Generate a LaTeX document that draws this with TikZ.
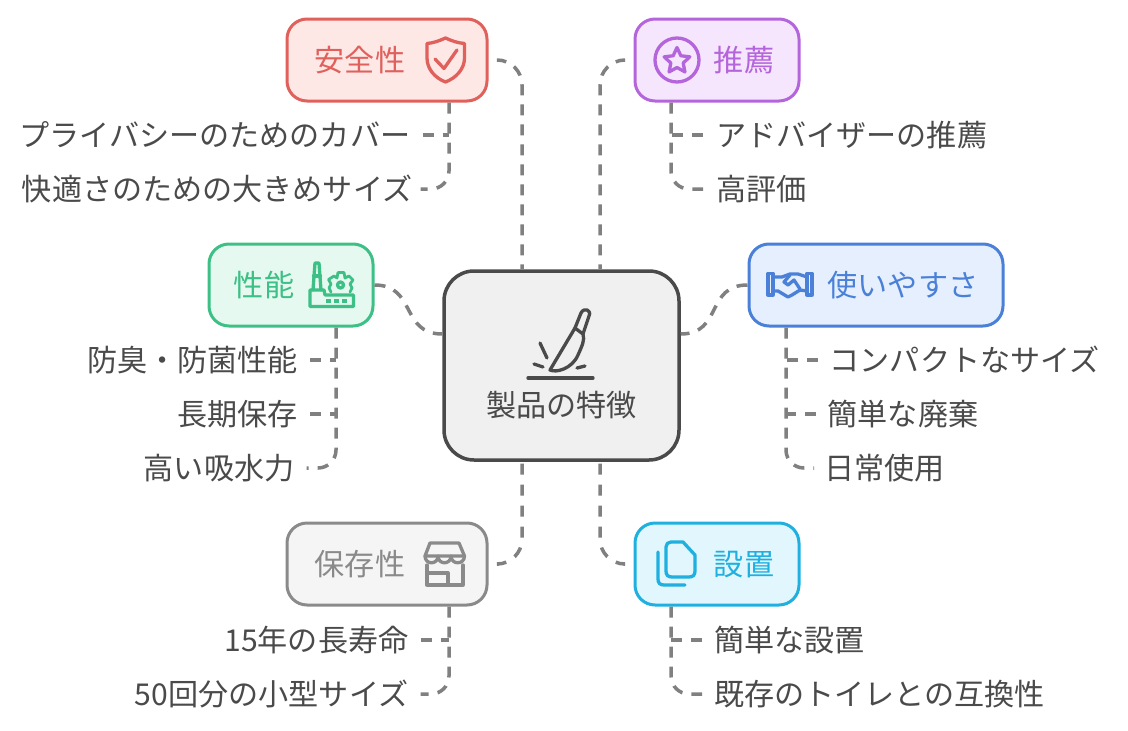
\documentclass[tikz,border=0pt]{standalone}
\usepackage{fontspec}
\setmainfont{Noto Sans CJK JP}
\usetikzlibrary{calc}
\definecolor{ink}{HTML}{4A4A4A}
\definecolor{conncol}{HTML}{808080}
\definecolor{redS}{HTML}{E0605C}\definecolor{redF}{HTML}{FDE8E6}
\definecolor{purS}{HTML}{B565DB}\definecolor{purF}{HTML}{F5E6FD}
\definecolor{grnS}{HTML}{3CC085}\definecolor{grnF}{HTML}{E6F9F0}
\definecolor{bluS}{HTML}{4A80D8}\definecolor{bluF}{HTML}{E5EFFD}
\definecolor{gryS}{HTML}{8A8A8A}\definecolor{gryF}{HTML}{F5F5F5}
\definecolor{cyaS}{HTML}{1FB0E0}\definecolor{cyaF}{HTML}{E1F7FD}
\tikzset{
  x=1pt,y=-1pt,
  txt/.style={font=\fontsize{30.1}{36}\selectfont,inner sep=0pt,text height=26.4pt,text depth=3.6pt,text=ink},
  box/.style={draw=#1S,fill=#1F,line width=3pt,rounded corners=20pt,minimum height=82pt,inner sep=0pt},
  head/.style={txt,text=#1S},
  conn/.style={draw=conncol,line width=3.5pt,dash pattern=on 11pt off 9pt},
  connlow/.style={draw=conncol,line width=3.5pt,dash pattern=on 11pt off 10pt},
  icon/.style={draw=#1,line width=3.3pt,line join=round,line cap=round},
}
\begin{document}
\begin{tikzpicture}
\useasboundingbox (0,0) rectangle (1128,731);
% centre
\node[draw=ink,fill=black!6,line width=3.5pt,rounded corners=30pt,minimum width=235pt,minimum height=189pt,inner sep=0pt] (ctr) at (561.5,365.5) {};
\node[txt] (ctrT) at (561.5,405) {製品の特徴};
% category boxes
\node[box=red,minimum width=200pt] (safe) at (387,60) {};
\node[box=pur,minimum width=164pt] (reco) at (717,60) {};
\node[box=grn,minimum width=164pt] (perf) at (291,285) {};
\node[box=blu,minimum width=254pt] (ease) at (876,285) {};
\node[box=gry,minimum width=200pt] (stor) at (387,564) {};
\node[box=cya,minimum width=164pt] (inst) at (717,564) {};
\node[head=red] (safeT) at (360,60) {安全性};
\node[head=pur] (recoT) at (744,60) {推薦};
\node[head=grn] (perfT) at (264,285) {性能};
\node[head=blu] (easeT) at (903,285) {使いやすさ};
\node[head=gry] (storT) at (360,564) {保存性};
\node[head=cya] (instT) at (744,564) {設置};
% leaves
\node[txt,anchor=east] (s1) at (410.5,135) {プライバシーのためのカバー};
\node[txt,anchor=east] (s2) at (412.5,189) {快適さのための大きめサイズ};
\node[txt,anchor=west] (r1) at (716,135) {アドバイザーの推薦};
\node[txt,anchor=west] (r2) at (716,189) {高評価};
\node[txt,anchor=east] (p1) at (298,360) {防臭・防菌性能};
\node[txt,anchor=east] (p2) at (298,414) {長期保存};
\node[txt,anchor=east] (p3) at (294.5,468) {高い吸水力};
\node[txt,anchor=west] (e1) at (829.5,360) {コンパクトなサイズ};
\node[txt,anchor=west] (e2) at (827.5,414) {簡単な廃棄};
\node[txt,anchor=west] (e3) at (824,468) {日常使用};
\node[txt,anchor=east] (t1) at (408.5,640) {15年の長寿命};
\node[txt,anchor=east] (t2) at (408.5,694) {50回分の小型サイズ};
\node[txt,anchor=west] (i1) at (714,640) {簡単な設置};
\node[txt,anchor=west] (i2) at (714,694) {既存のトイレとの互換性};
% centre connectors
\draw[conn,rounded corners=25pt] ($(safe.east)+(10,0)$) -| ($(ctr.north)+(-39.5,0)$);
\draw[conn,rounded corners=25pt] ($(reco.west)+(-10,0)$) -| ($(ctr.north)+(38.5,0)$);
\draw[connlow,rounded corners=25pt] ($(stor.east)+(10,0)$) -| ($(ctr.south)+(-39.5,0)$);
\draw[connlow,rounded corners=25pt] ($(inst.west)+(-10,0)$) -| ($(ctr.south)+(38.5,0)$);
\draw[conn] (perf.east) .. controls +(42,0) and +(-42,0) .. ($(ctr.west)+(0,-31.5)$);
\draw[conn] (ease.west) .. controls +(-42,0) and +(42,0) .. ($(ctr.east)+(0,-31.5)$);
% leaf connectors
\coordinate (st) at ($(safe.south)+(62,0)$);
\coordinate (rt) at ($(reco.south)+(-46,0)$);
\coordinate (pt) at ($(perf.south)+(45,0)$);
\coordinate (et) at ($(ease.south)+(-90,0)$);
\coordinate (tt) at ($(stor.south)+(62,0)$);
\coordinate (it) at ($(inst.south)+(-46,0)$);
\draw[conn,rounded corners=18pt] (st) |- ($(s2.east)+(8,0)$);
\draw[conn] ($(s1.east)+(12,0)$) -- (s1.east -| st);
\draw[conn,rounded corners=18pt] (rt) |- ($(r2.west)+(-13,0)$);
\draw[conn] ($(r1.west)+(-13,0)$) -- (r1.west -| rt);
\draw[conn,rounded corners=18pt] (pt) |- ($(p3.east)+(12,0)$);
\draw[conn] ($(p1.east)+(12,0)$) -- (p1.east -| pt);
\draw[conn] ($(p2.east)+(12,0)$) -- (p2.east -| pt);
\draw[conn,rounded corners=18pt] (et) |- ($(e3.west)+(-10,0)$);
\draw[conn] ($(e1.west)+(-12,0)$) -- (e1.west -| et);
\draw[conn] ($(e2.west)+(-12,0)$) -- (e2.west -| et);
\draw[conn,rounded corners=18pt] (tt) |- ($(t2.east)+(12,0)$);
\draw[conn] ($(t1.east)+(12,0)$) -- (t1.east -| tt);
\draw[conn,rounded corners=18pt] (it) |- ($(i2.west)+(-12,0)$);
\draw[conn] ($(i1.west)+(-12,0)$) -- (i1.west -| it);
% shield icon
\draw[icon=redS] (445.5,38) .. controls (439,41) and (433,43) .. (427,43.5) -- (427,58) .. controls (427,69) and (435,78) .. (445.5,82) .. controls (456,78) and (464.5,69) .. (464.5,58) -- (464.5,43.5) .. controls (458,43) and (452,41) .. (445.5,38) -- cycle;
\draw[icon=redS] (435,59) -- (444,68.5) -- (457,50);
% star icon
\draw[icon=purS] (677,60) circle (22);
\begin{scope}[shift={(677,61)}]
\draw[icon=purS] (-90:13.5) -- (-54:6.5) -- (-18:13.5) -- (18:6.5) -- (54:13.5) -- (90:6.5) -- (126:13.5) -- (162:6.5) -- (198:13.5) -- (234:6.5) -- cycle;
\end{scope}
% factory icon
\draw[icon=grnS] (313,290) -- (315,263) -- (319,263) -- (321,290);
\draw[icon=grnS] (313.5,276) -- (320.5,276);
\draw[icon=grnS] (310,290) -- (324,290) -- (325,295) -- (353.5,295) -- (353.5,306.5) -- (310,306.5) -- cycle;
\draw[icon=grnS,line width=2.8pt] (331,292) -- (329,288) -- (331,284) -- (328.5,279.5) -- (334,276) -- (337,278) -- (338,272.5) -- (344,272.5) -- (345,278) -- (349,276) -- (353,280) -- (350,284) -- (352,288) -- (350,292);
\draw[icon=grnS] (340.5,285) circle (3);
\draw[icon=grnS,line cap=butt,dash pattern=on 5pt off 3pt] (326,301) -- (349,301);
% handshake icon
\draw[icon=bluS] (768,273.5) -- (773,273.5) -- (773,295) -- (768,295) -- cycle;
\draw[icon=bluS] (812,273.5) -- (807,273.5) -- (807,295) -- (812,295) -- cycle;
\draw[icon=bluS] (773,277) -- (782,277) -- (790,274) -- (798,274) -- (807,277);
\draw[icon=bluS] (773,291) -- (778,291) -- (788,297) -- (792,295) -- (800,290) -- (807,291);
\draw[icon=bluS] (790,275) -- (784,282) -- (788,285) -- (794,280) -- (800,289);
% store icon
\draw[icon=gryS] (430,543) -- (459,543) -- (464.5,556) -- (425,556) -- cycle;
\draw[icon=gryS] (425,556) .. controls (425,565) and (438,565) .. (438,556) .. controls (438,565) and (451,565) .. (451,556) .. controls (451,565) and (464.5,565) .. (464.5,556);
\draw[icon=gryS] (427,565) -- (427,585) -- (463,585) -- (463,565);
\draw[icon=gryS] (428,573) -- (448,573) -- (448,584);
% documents icon
\draw[icon=cyaS] (671,542) -- (683,542) -- (695,555) -- (695,571) .. controls (695,575) and (693,577) .. (689,577) -- (672,577) .. controls (668,577) and (666,575) .. (666,571) -- (666,547) .. controls (666,544) and (668,542) .. (671,542) -- cycle;
\draw[icon=cyaS] (658,552) -- (658,579) .. controls (658,583) and (660,585) .. (664,585) -- (685,585);
% knife icon
\draw[icon=ink] (575,328) -- (550,370) .. controls (556,373) and (572,369) .. (578,355) .. controls (582,346) and (585,340) .. (583,334) -- cycle;
\draw[icon=ink] (575,328) -- (581,313) .. controls (584,307) and (592,310) .. (589,316) -- (583,334);
\draw[icon=ink] (540,343) -- (547,358);
\draw[icon=ink] (534,364) -- (543,367);
\draw[icon=ink] (577,368) -- (585,366);
\draw[icon=ink] (528,378) -- (593,378);
\end{tikzpicture}
\end{document}
